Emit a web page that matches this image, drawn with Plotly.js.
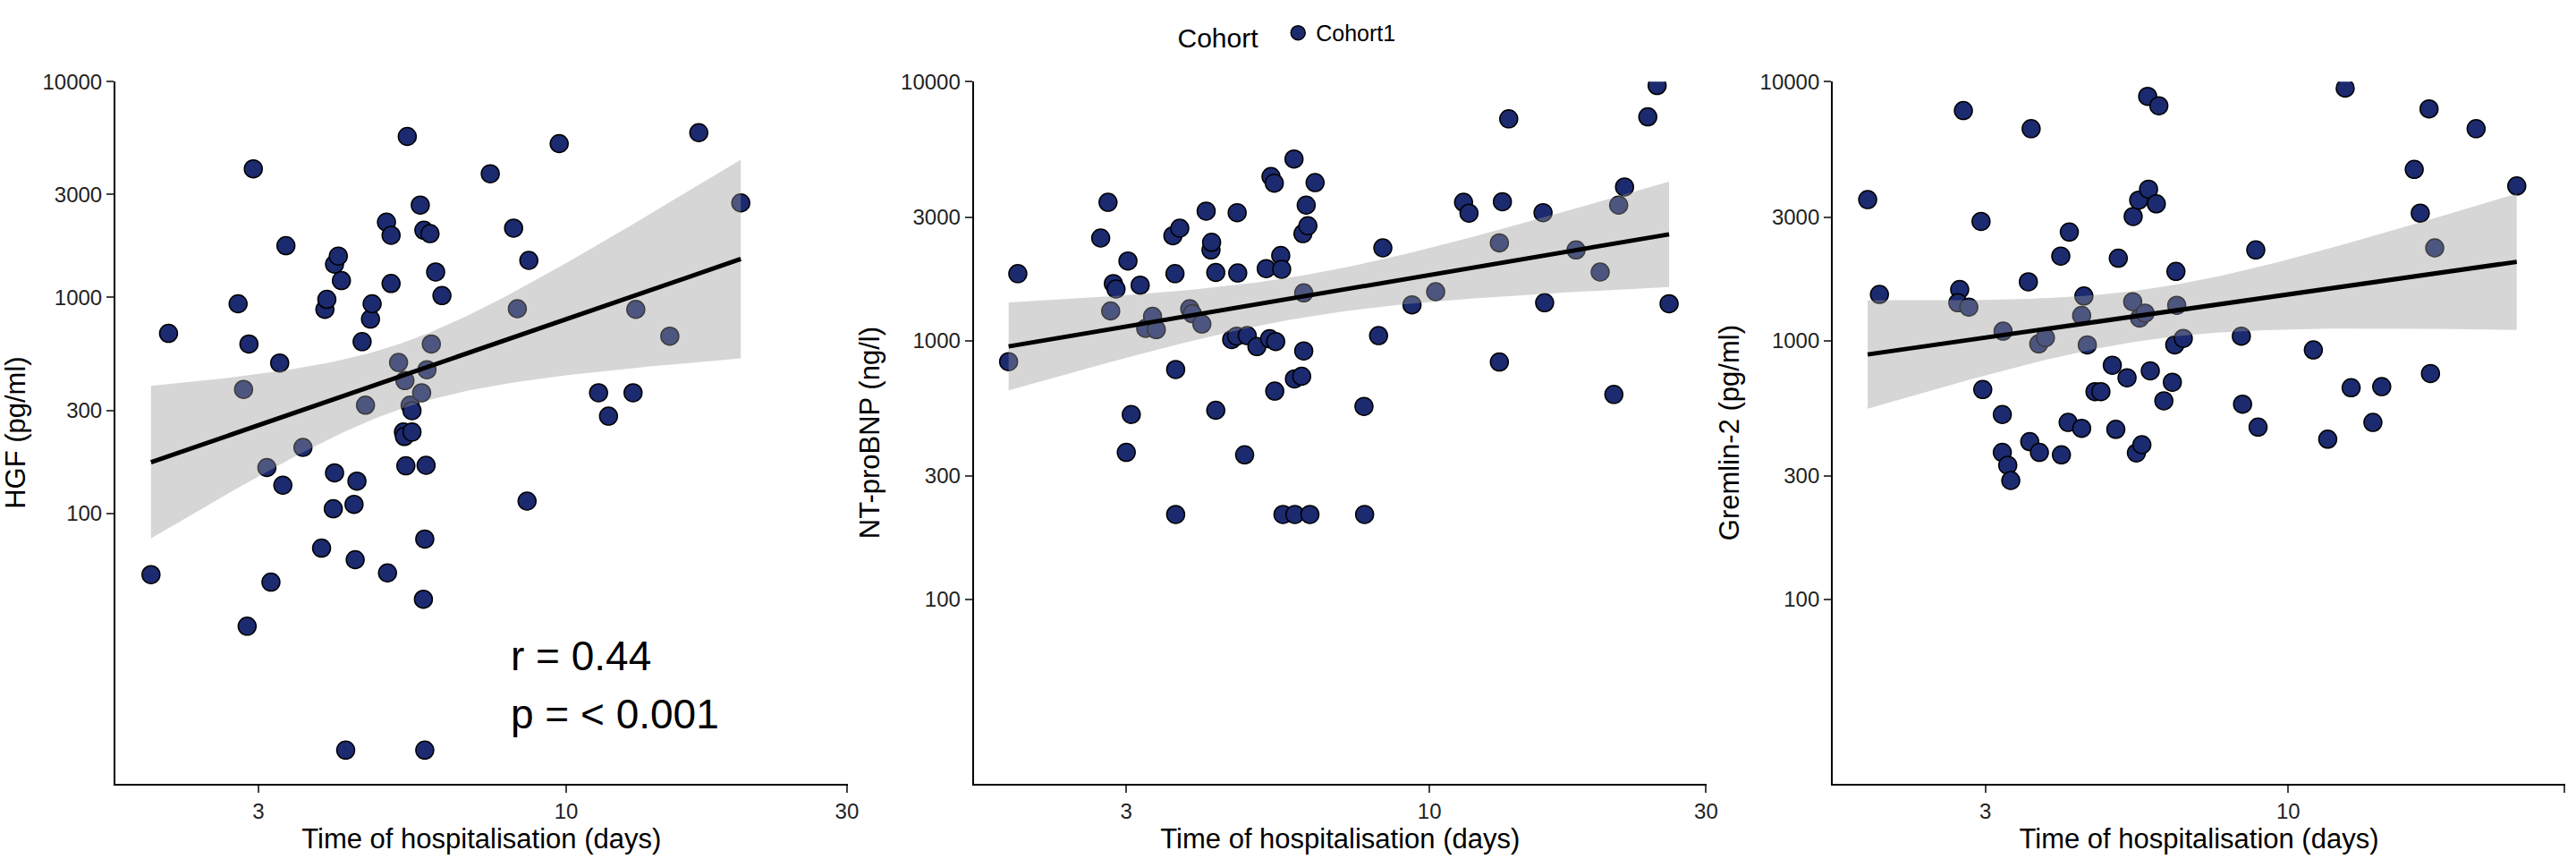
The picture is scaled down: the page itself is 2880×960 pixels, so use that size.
<!DOCTYPE html>
<html><head><meta charset="utf-8">
<script src="https://cdn.plot.ly/plotly-3.0.1.min.js"></script>
<style>body{margin:0;background:#fff}#c{width:2880px;height:960px}</style>
</head><body><div id="c"></div>
<script>
const hgfDays=[1.97,2.11,2.77,2.83,2.87,2.89,2.94,3.10,3.15,3.26,3.30,3.34,3.57,3.84,3.89,3.92,4.02,4.04,4.04,4.10,4.15,4.22,4.36,4.38,4.41,4.50,4.56,4.65,4.68,4.95,4.97,5.04,5.04,5.19,5.29,5.31,5.32,5.34,5.37,5.43,5.47,5.47,5.65,5.68,5.72,5.73,5.75,5.75,5.78,5.80,5.87,5.90,6.00,6.15,7.43,8.14,8.26,8.58,8.64,9.73,11.35,11.8,12.99,13.13,15.0,16.8,19.8];
const hgfVals=[52,682,935,375,30,609,3945,163,48,497,135,1738,202,69,881,980,105,154,1426,1556,1197,8,110,61,141,624,317,794,935,2234,53,1941,1161,500,238,227,412,166,5572,317,299,238,2680,362,40,2048,8,76,167,463,1977,609,1313,1021,3741,2096,887,114,1485,5162,362,282,362,881,662,5800,2742];
const bnpDays=[1.88,1.95,2.71,2.79,2.82,2.85,2.88,3.0,3.02,3.06,3.17,3.24,3.33,3.38,3.61,3.64,3.65,3.65,3.71,3.86,3.9,4.05,4.12,4.2,4.21,4.28,4.28,4.56,4.65,4.66,4.67,4.8,4.85,5.04,5.23,5.3,5.33,5.4,5.41,5.43,5.54,5.56,5.59,5.84,5.85,5.86,6.02,6.05,6.07,6.07,6.13,6.17,6.22,6.35,7.71,7.73,8.17,8.31,9.33,10.25,11.45,11.7,13.2,13.2,13.36,13.7,15.7,15.8,17.9,19.7,20.8,21.2,21.7,23.8,24.7,25.9];
const bnpVals=[829,1812,2489,3420,1301,1660,1581,370,2028,518,1637,1114,1240,1102,2541,1812,773,213,2716,1327,1270,1159,3162,2239,2395,538,1832,1009,1040,3118,1823,362,1045,948,1896,1016,4299,4055,638,991,2130,1885,213,5026,711,213,728,2589,1528,912,3334,2774,213,4074,557,213,1045,2280,1374,1544,3420,3105,2384,826,3436,7178,3118,1400,2239,1839,619,3334,3918,7311,9661,1387];
const gremDays=[1.88,1.97,2.71,2.75,2.69,2.81,2.95,2.97,3.21,3.22,3.21,3.28,3.32,3.56,3.58,3.6,3.71,3.72,3.81,4.05,4.06,4.17,4.19,4.4,4.4,4.44,4.5,4.64,4.75,4.97,5.04,5.09,5.27,5.39,5.4,5.47,5.52,5.54,5.59,5.66,5.72,5.74,5.78,5.92,5.98,6.1,6.31,6.37,6.4,6.42,6.59,8.3,8.34,8.79,8.87,11.05,11.7,12.54,12.84,14.0,14.5,16.5,16.9,17.9,17.5,17.6,21.1,24.8];
const gremVals=[3501,1507,1574,7727,1400,1346,2884,647,518,1087,370,330,288,1686,407,6577,971,370,1026,2120,362,483,2624,1250,458,1486,962,635,635,803,454,2080,718,1413,3013,368,3486,1222,396,1276,8770,3843,764,3373,8067,585,690,962,1849,1368,1019,1040,568,2239,463,920,416,9441,657,483,664,4581,3105,2280,7844,746,6577,3954];
const yTitles=["HGF (pg/ml)","NT-proBNP (ng/l)","Gremlin-2 (pg/ml)"];
const xTitle="Time of hospitalisation (days)";
const yTickVals=[100,300,1000,3000,10000];
const xTickVals=[3,10,30];
const statR="r = 0.44", statP="p = < 0.001";
const cohortName="Cohort1";

function fit(xs,ys){
  const lx=xs.map(Math.log10), ly=ys.map(Math.log10), n=lx.length;
  const mx=lx.reduce((a,b)=>a+b)/n, my=ly.reduce((a,b)=>a+b)/n;
  let sxx=0,sxy=0; for(let i=0;i<n;i++){sxx+=(lx[i]-mx)**2;sxy+=(lx[i]-mx)*(ly[i]-my);}
  const b=sxy/sxx,a=my-b*mx; let sse=0; for(let i=0;i<n;i++) sse+=(ly[i]-a-b*lx[i])**2;
  const s=Math.sqrt(sse/(n-2)), t=1.997;
  const lo=Math.min(...lx), hi=Math.max(...lx); const gx=[],fy=[],up=[],dn=[];
  for(let k=0;k<=80;k++){const x=lo+(hi-lo)*k/80; const y=a+b*x; const se=s*Math.sqrt(1/n+(x-mx)**2/sxx);
    gx.push(10**x); fy.push(10**y); up.push(10**(y+t*se)); dn.push(10**(y-t*se));}
  return {gx,fy,up,dn};
}
const sets=[[hgfDays,hgfVals],[bnpDays,bnpVals],[gremDays,gremVals]];
const traces=[]; const layout={width:2880,height:960,margin:{l:0,r:0,t:0,b:0},paper_bgcolor:'#fff',plot_bgcolor:'#fff',
 font:{family:'Liberation Sans, Arial',color:'#000'},showlegend:true,
 legend:{orientation:'h',x:0.5,xanchor:'center',y:0.96,yanchor:'middle',title:{text:'Cohort  ',font:{size:30},side:'left'},font:{size:25}},
 annotations:[]};
const xd=[[0.0448,0.329],[0.378,0.6625],[0.7115,0.9958]];
const yr=[[0.747,4],[1.288,4],[1.288,4]];
sets.forEach((s,i)=>{
  const ax=i===0?'':String(i+1); const f=fit(s[0],s[1]);
  traces.push({type:'scatter',mode:'markers',x:s[0],y:s[1],xaxis:'x'+ax,yaxis:'y'+ax,name:cohortName,showlegend:i===0,
    marker:{size:20,color:'#1c2a70',line:{color:'#000',width:1.5}}});
  traces.push({type:'scatter',mode:'lines',x:f.gx,y:f.up,xaxis:'x'+ax,yaxis:'y'+ax,line:{width:0},showlegend:false,hoverinfo:'skip'});
  traces.push({type:'scatter',mode:'lines',x:f.gx,y:f.dn,xaxis:'x'+ax,yaxis:'y'+ax,line:{width:0},fill:'tonexty',fillcolor:'rgba(153,153,153,0.4)',showlegend:false,hoverinfo:'skip'});
  traces.push({type:'scatter',mode:'lines',x:f.gx,y:f.fy,xaxis:'x'+ax,yaxis:'y'+ax,line:{color:'#000',width:5},showlegend:false});
  layout['xaxis'+ax]={type:'log',domain:xd[i],range:[i===0?0.234:0.214,1.478],anchor:'y'+ax,tickvals:xTickVals,ticktext:xTickVals.map(String),
    ticks:'outside',ticklen:8,tickwidth:2,showline:true,linewidth:2,linecolor:'#000',showgrid:false,zeroline:false,tickfont:{size:24,color:'#222'},
    title:{text:xTitle,font:{size:31},standoff:4}};
  layout['yaxis'+ax]={type:'log',domain:[0.0875,0.905],range:yr[i],anchor:'x'+ax,tickvals:yTickVals,ticktext:yTickVals.map(String),
    ticks:'outside',ticklen:8,tickwidth:2,showline:true,linewidth:2,linecolor:'#000',showgrid:false,zeroline:false,tickfont:{size:24,color:'#222'},
    title:{text:yTitles[i],font:{size:31},standoff:14}};
});
layout.annotations.push({xref:'x',yref:'y',x:Math.log10(8.0),y:Math.log10(21.8),text:statR,showarrow:false,xanchor:'left',yanchor:'middle',font:{size:46}});
layout.annotations.push({xref:'x',yref:'y',x:Math.log10(8.0),y:Math.log10(11.8),text:statP,showarrow:false,xanchor:'left',yanchor:'middle',font:{size:46}});
Plotly.newPlot('c',traces,layout,{displayModeBar:false,staticPlot:true});
</script></body></html>
